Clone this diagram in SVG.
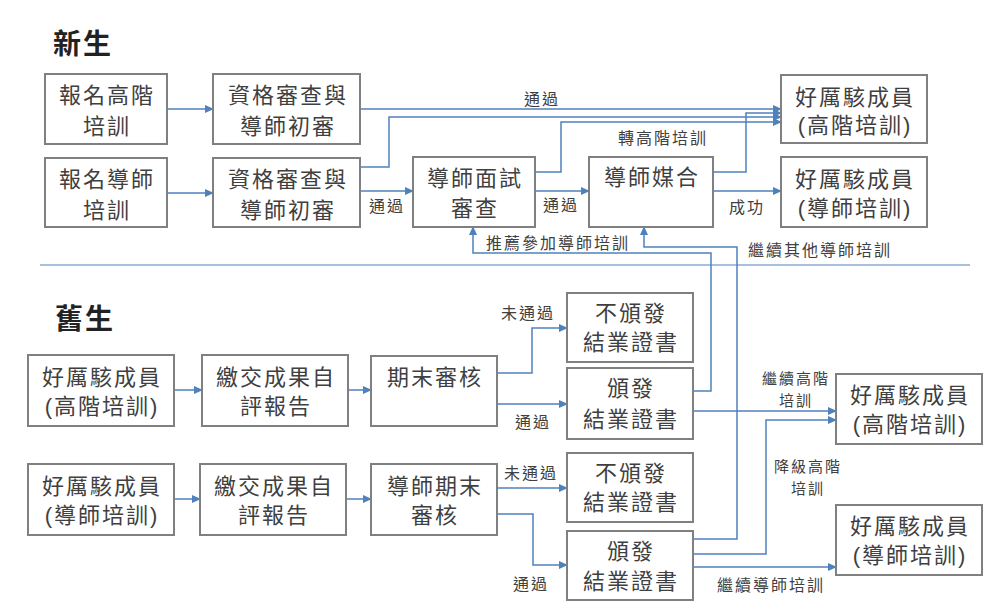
<svg xmlns="http://www.w3.org/2000/svg" width="1000" height="611" viewBox="0 0 1000 611">
<defs>
<style>
.box{fill:#fff;stroke:#808080;stroke-width:2}
.t{font-family:"Liberation Sans","Noto Sans CJK TC",sans-serif;font-size:22px;fill:#404040;text-anchor:middle;letter-spacing:2px}
.lb{font-family:"Noto Sans CJK TC",sans-serif;font-size:16px;fill:#404040;text-anchor:middle;letter-spacing:2px}
.ls{font-size:15px}
.h{font-family:"Noto Sans CJK TC",sans-serif;font-size:28px;font-weight:700;fill:#222;letter-spacing:2px}
.c{fill:none;stroke:#4f81bd;stroke-width:1.5}
</style>
<marker id="a" markerUnits="userSpaceOnUse" markerWidth="9" markerHeight="8" refX="8" refY="4" orient="auto">
<path d="M0,0 L9,4 L0,8 z" fill="#4f81bd"/>
</marker>
</defs>
<rect width="1000" height="611" fill="#fff"/>
<text class="h" x="53" y="54">新生</text>
<text class="h" x="55" y="329">舊生</text>
<line x1="40" y1="265" x2="970" y2="265" stroke="#4f81bd" stroke-width="1.2"/>

<g id="connectors">
<path class="c" marker-end="url(#a)" d="M167,109 H213"/>
<path class="c" marker-end="url(#a)" d="M167,193 H213"/>
<path class="c" marker-end="url(#a)" d="M360,109 H781"/>
<path class="c" marker-end="url(#a)" d="M360,167 H389 V117 H781"/>
<path class="c" marker-end="url(#a)" d="M360,191 H413"/>
<path class="c" marker-end="url(#a)" d="M535,172 H561 V122 H781"/>
<path class="c" marker-end="url(#a)" d="M535,191 H589"/>
<path class="c" marker-end="url(#a)" d="M713,172 H746 V113 H781"/>
<path class="c" marker-end="url(#a)" d="M713,191 H781"/>
<path class="c" marker-end="url(#a)" d="M693,391 H711 V253 H473 V227"/>
<path class="c" marker-end="url(#a)" d="M693,539 H737 V247 H644 V227"/>
<path class="c" marker-end="url(#a)" d="M174,390 H202"/>
<path class="c" marker-end="url(#a)" d="M348,390 H371"/>
<path class="c" marker-end="url(#a)" d="M497,373 H532 V328 H567"/>
<path class="c" marker-end="url(#a)" d="M497,404 H567"/>
<path class="c" marker-end="url(#a)" d="M693,411 H836"/>
<path class="c" marker-end="url(#a)" d="M693,554 H766 V420 H836"/>
<path class="c" marker-end="url(#a)" d="M174,499 H200"/>
<path class="c" marker-end="url(#a)" d="M346,499 H371"/>
<path class="c" marker-end="url(#a)" d="M497,488 H567"/>
<path class="c" marker-end="url(#a)" d="M497,514 H533 V565 H567"/>
<path class="c" marker-end="url(#a)" d="M693,567 H836"/>
<text class="lb" x="542" y="105">通過</text>
<text class="lb" x="387" y="212">通過</text>
<text class="lb" x="561" y="211">通過</text>
<text class="lb" x="663" y="144">轉高階培訓</text>
<text class="lb" x="747" y="213">成功</text>
<text class="lb" x="558" y="249">推薦參加導師培訓</text>
<text class="lb" x="820" y="256">繼續其他導師培訓</text>
<text class="lb" x="528" y="319">未通過</text>
<text class="lb" x="533" y="428">通過</text>
<text class="lb ls" x="796" y="384">繼續高階</text>
<text class="lb ls" x="796" y="406">培訓</text>
<text class="lb ls" x="808" y="472">降級高階</text>
<text class="lb ls" x="808" y="494">培訓</text>
<text class="lb" x="531" y="479">未通過</text>
<text class="lb" x="531" y="590">通過</text>
<text class="lb" x="771" y="591">繼續導師培訓</text>
</g>

<g id="n1"><rect class="box" x="45" y="74" width="122" height="70"/><text class="t" x="107" y="103">報名高階</text><text class="t" x="107" y="134">培訓</text></g>
<g id="n2"><rect class="box" x="213" y="74" width="147" height="70"/><text class="t" x="288" y="103">資格審查與</text><text class="t" x="288" y="134">導師初審</text></g>
<g id="n3"><rect class="box" x="45" y="158" width="122" height="69"/><text class="t" x="107" y="187">報名導師</text><text class="t" x="107" y="218">培訓</text></g>
<g id="n4"><rect class="box" x="213" y="158" width="147" height="69"/><text class="t" x="288" y="187">資格審查與</text><text class="t" x="288" y="218">導師初審</text></g>
<g id="n5"><rect class="box" x="413" y="157" width="122" height="70"/><text class="t" x="475" y="186">導師面試</text><text class="t" x="475" y="216">審查</text></g>
<g id="n6"><rect class="box" x="589" y="157" width="124" height="70"/><text class="t" x="652" y="185">導師媒合</text></g>
<g id="n7"><rect class="box" x="781" y="75" width="146" height="68"/><text class="t" x="855" y="105">好厲駭成員</text><text class="t" x="855" y="133">(高階培訓)</text></g>
<g id="n8"><rect class="box" x="781" y="157" width="146" height="70"/><text class="t" x="855" y="187">好厲駭成員</text><text class="t" x="855" y="216">(導師培訓)</text></g>

<g id="n9"><rect class="box" x="28" y="355" width="146" height="71"/><text class="t" x="102" y="385">好厲駭成員</text><text class="t" x="102" y="414">(高階培訓)</text></g>
<g id="n10"><rect class="box" x="202" y="355" width="146" height="71"/><text class="t" x="276" y="385">繳交成果自</text><text class="t" x="276" y="414">評報告</text></g>
<g id="n11"><rect class="box" x="371" y="356" width="126" height="70"/><text class="t" x="435" y="385">期末審核</text></g>
<g id="n12"><rect class="box" x="567" y="293" width="126" height="69"/><text class="t" x="631" y="321">不頒發</text><text class="t" x="631" y="350">結業證書</text></g>
<g id="n13"><rect class="box" x="567" y="368" width="126" height="71"/><text class="t" x="631" y="396">頒發</text><text class="t" x="631" y="427">結業證書</text></g>
<g id="n14"><rect class="box" x="28" y="464" width="146" height="71"/><text class="t" x="102" y="494">好厲駭成員</text><text class="t" x="102" y="523">(導師培訓)</text></g>
<g id="n15"><rect class="box" x="200" y="464" width="146" height="71"/><text class="t" x="274" y="494">繳交成果自</text><text class="t" x="274" y="523">評報告</text></g>
<g id="n16"><rect class="box" x="371" y="464" width="126" height="71"/><text class="t" x="435" y="494">導師期末</text><text class="t" x="435" y="523">審核</text></g>
<g id="n17"><rect class="box" x="567" y="453" width="126" height="69"/><text class="t" x="631" y="481">不頒發</text><text class="t" x="631" y="510">結業證書</text></g>
<g id="n18"><rect class="box" x="567" y="531" width="126" height="69"/><text class="t" x="631" y="559">頒發</text><text class="t" x="631" y="589">結業證書</text></g>
<g id="n19"><rect class="box" x="836" y="374" width="146" height="70"/><text class="t" x="910" y="403">好厲駭成員</text><text class="t" x="910" y="432">(高階培訓)</text></g>
<g id="n20"><rect class="box" x="836" y="505" width="146" height="70"/><text class="t" x="910" y="534">好厲駭成員</text><text class="t" x="910" y="563">(導師培訓)</text></g>
</svg>
